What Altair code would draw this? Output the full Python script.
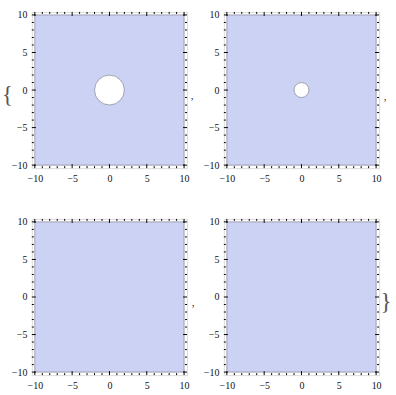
import altair as alt
import pandas as pd

# ---- data ----
major_ticks = [-10, -5, 0, 5, 10]
minor_ticks = [-9, -8, -7, -6, -4, -3, -2, -1, 1, 2, 3, 4, 6, 7, 8, 9]
region_x = [-10, 10]
region_y = [-10, 10]
hole_center = [0, 0]
hole_radii = [2, 1, 0, 0]          # radius of the excluded disc in each panel
plot_range = [-10.4, 10.4]
punctuation = [["{", ","], [","], [","], ["}"]]

# ---- style / layout ----
W, H = 156, 157
FILL = "#CCD2F3"
EDGE = "#8E8E9E"
FONT = "Liberation Serif"
MAJOR_LEN, MINOR_LEN = 4, 2

punct_pos = {
    (0, "{"): (-24.5, 84, 23, "middle", "#555555"),
    (0, ","): (161, 87, 11, "alphabetic", "#222222"),
    (1, ","): (162, 88, 11, "alphabetic", "#222222"),
    (2, ","): (162, 88, 11, "alphabetic", "#222222"),
    (3, "}"): (163, 84, 23, "middle", "#555555"),
}
bound_marks = {0: (-31, -10), 1: (171, -10), 2: (-31, 176), 3: (171, 176)}


def scale():
    return alt.Scale(domain=plot_range, nice=False, zero=False)


def axis(orient):
    return alt.Axis(values=major_ticks, ticks=False, domain=False, grid=False,
                    labelPadding=5, labelFont=FONT, labelFontSize=10,
                    labelColor="#111111", format="d", labelFlush=False,
                    labelOverlap=False, title=None, orient=orient)


def X(field):
    return alt.X(field, scale=scale(), axis=axis("bottom"))


def Y(field):
    return alt.Y(field, scale=scale(), axis=axis("left"))


def panel(i):
    r = hole_radii[i]
    region = pd.DataFrame({"x0": [region_x[0]], "x1": [region_x[1]],
                           "y0": [region_y[0]], "y1": [region_y[1]]})
    rect = alt.Chart(region).mark_rect(fill=FILL, stroke=EDGE, strokeWidth=0.8).encode(
        x=X("x0:Q"), x2="x1", y=Y("y0:Q"), y2="y1",
    )
    layers = [rect]
    if r > 0:
        hole = pd.DataFrame({"cx": [hole_center[0]], "cy": [hole_center[1]], "r": [r]})
        arc = alt.Chart(hole).mark_arc(fill="white", stroke=EDGE, strokeWidth=0.8,
                                       theta=0, theta2=6.2832).encode(
            x=X("cx:Q"), y=Y("cy:Q"),
            radius=alt.Radius("r:Q", scale=alt.Scale(type="linear",
                                                     domain=[0, plot_range[1]],
                                                     range=[0, W / 2])),
        )
        layers.append(arc)

    for vals, L in [(major_ticks, MAJOR_LEN), (minor_ticks, MINOR_LEN)]:
        df = pd.DataFrame({"v": vals})
        base = alt.Chart(df).mark_rule(color="black", strokeWidth=1)
        layers += [
            base.encode(x=X("v:Q"), y=alt.value(0), y2=alt.value(L)),
            base.encode(x=X("v:Q"), y=alt.value(H), y2=alt.value(H - L)),
            base.encode(y=Y("v:Q"), x=alt.value(0), x2=alt.value(L)),
            base.encode(y=Y("v:Q"), x=alt.value(W), x2=alt.value(W - L)),
        ]

    for s in punctuation[i]:
        px, py, fs, bl, col = punct_pos[(i, s)]
        t = alt.Chart(pd.DataFrame({"t": [s]})).mark_text(
            font=FONT, fontSize=fs, color=col, align="center", baseline=bl
        ).encode(x=alt.value(px), y=alt.value(py), text="t:N")
        layers.append(t)

    bx, by = bound_marks[i]
    b = alt.Chart(pd.DataFrame({"k": [0]})).mark_rect(fill="white", strokeWidth=0).encode(
        x=alt.value(bx), x2=alt.value(bx + 1), y=alt.value(by), y2=alt.value(by + 1))
    layers.append(b)

    return alt.layer(*layers).properties(width=W, height=H)


chart = alt.concat(
    *[panel(i) for i in range(4)],
    columns=2,
    spacing={"row": 51, "column": 37},
    bounds="flush",
    padding=0,
).configure_view(stroke="black", strokeWidth=1).configure(background="white")

chart.save("out.html", embed_options={"renderer": "svg", "actions": False})
